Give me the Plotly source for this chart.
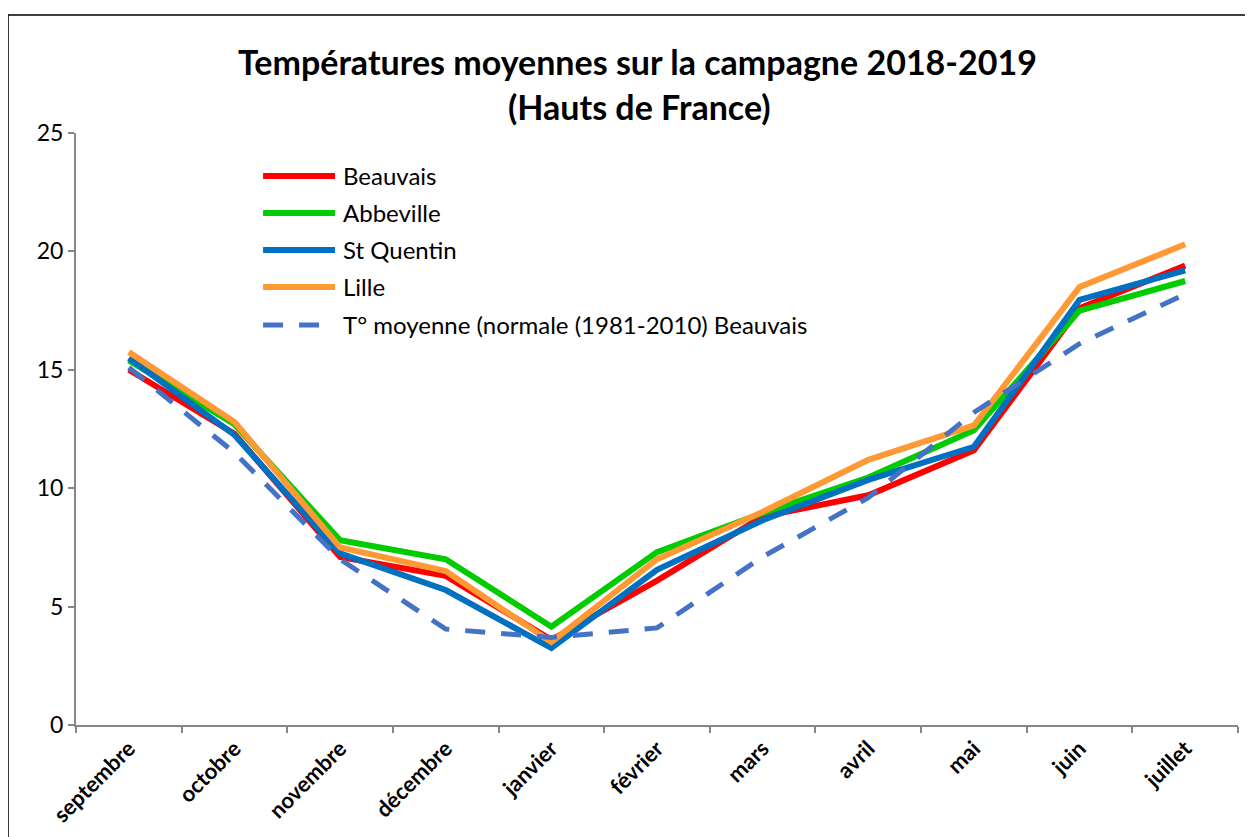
import plotly.graph_objects as go

months = ["septembre", "octobre", "novembre", "décembre", "janvier", "février",
          "mars", "avril", "mai", "juin", "juillet"]
beauvais = [15.0, 12.3, 7.1, 6.3, 3.6, 6.1, 8.8, 9.7, 11.6, 17.6, 19.4]
abbeville = [15.4, 12.7, 7.8, 7.0, 4.15, 7.3, 8.95, 10.45, 12.45, 17.5, 18.75]
st_quentin = [15.5, 12.25, 7.25, 5.7, 3.25, 6.55, 8.65, 10.35, 11.75, 17.95, 19.2]
lille = [15.75, 12.8, 7.5, 6.5, 3.5, 7.0, 9.0, 11.2, 12.65, 18.5, 20.3]
normale = [15.1, 11.5, 7.0, 4.05, 3.7, 4.1, 7.1, 9.6, 13.2, 16.1, 18.2]

names = ["Beauvais", "Abbeville", "St Quentin", "Lille",
         "T° moyenne (normale (1981-2010) Beauvais"]
series = [beauvais, abbeville, st_quentin, lille, normale]
colors = ["#FF0000", "#00CC00", "#0070C0", "#FF9933", "#4472C4"]
dashes = ["solid", "solid", "solid", "solid", "20px,16px"]
widths = [6, 6, 6, 6, 5]

FONT = "Lato"

fig = go.Figure()
for name, vals, c, d, w in zip(names, series, colors, dashes, widths):
    fig.add_trace(go.Scatter(x=months, y=vals, mode="lines", name=name,
                             line=dict(color=c, width=w, dash=d),
                             showlegend=False))

# manual legend (Excel style, long line samples)
leg_y = [0.9274, 0.8649, 0.8024, 0.7399, 0.6757]
shapes = []
annotations = []
for name, c, d, w, yy in zip(names, colors, dashes, widths, leg_y):
    shapes.append(dict(type="line", xref="paper", yref="paper",
                       x0=0.161, x1=0.2229, y0=yy, y1=yy,
                       line=dict(color=c, width=w, dash=d)))
    annotations.append(dict(xref="paper", yref="paper", x=0.228, y=yy,
                            xanchor="left", yanchor="middle", showarrow=False,
                            text=name, font=dict(family=FONT, size=24, color="black")))

# outer chart border
shapes.append(dict(type="rect", xref="paper", yref="paper",
                   x0=-0.0585, y0=-0.25, x1=1.05, y1=1.1993,
                   line=dict(color="black", width=1.5), layer="below"))

annotations.append(dict(xref="paper", yref="paper", x=0.483, y=1.12,
                        xanchor="center", yanchor="middle", showarrow=False,
                        text="<b>Températures moyennes sur la campagne 2018-2019</b>",
                        font=dict(family=FONT, size=34, color="black")))
annotations.append(dict(xref="paper", yref="paper", x=0.485, y=1.045,
                        xanchor="center", yanchor="middle", showarrow=False,
                        text="<b>(Hauts de France)</b>",
                        font=dict(family=FONT, size=34, color="black")))

fig.update_layout(
    width=1253, height=837,
    margin=dict(l=68, r=23, t=125, b=120),
    plot_bgcolor="white", paper_bgcolor="white",
    shapes=shapes, annotations=annotations,
    xaxis=dict(type="category", range=[-0.5, 10.5], showgrid=False,
               showline=True, linecolor="#868686", linewidth=2,
               ticks="outside", tickson="boundaries", ticklen=6, tickcolor="#868686",
               tickwidth=2, tickangle=-45,
               tickfont=dict(family=FONT, size=22, color="black", weight="bold")),
    yaxis=dict(range=[0, 25], tickvals=[0, 5, 10, 15, 20, 25], showgrid=False,
               zeroline=False, showline=True, linecolor="#868686", linewidth=2,
               ticks="outside", ticklen=6, tickcolor="#868686", tickwidth=2,
               tickfont=dict(family=FONT, size=23, color="black")),
)

fig.write_html("out.html")
